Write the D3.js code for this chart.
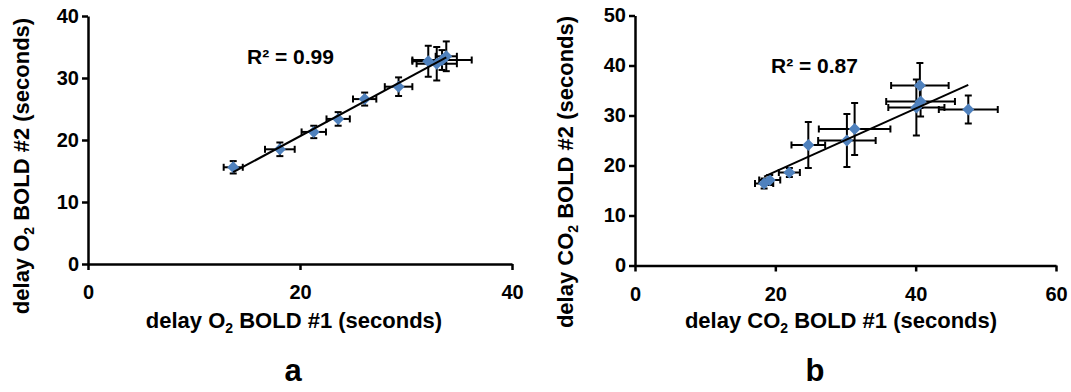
<!DOCTYPE html>
<html>
<head>
<meta charset="utf-8">
<script src="https://cdn.jsdelivr.net/npm/d3@7"></script>
<style>
  body { margin: 0; background: #fff; }
  svg { display: block; font-family: "Liberation Sans", Arial, sans-serif; font-weight: bold; }
  svg text { font-weight: bold; }
</style>
</head>
<body>
<div id="wrapper"></div>
<script>
// panel a: O2 BOLD repeat delays
const o2X = [13.7, 18.1, 21.3, 23.6, 26.1, 29.3, 32.1, 32.9, 33.4, 33.8]
const o2Y = [15.6, 18.5, 21.3, 23.4, 26.6, 28.6, 32.7, 32.3, 32.9, 33.5]
const o2XErr = [0.9, 1.4, 1.15, 1.1, 1.1, 1.3, 1.5, 1.9, 2.8, 1.0]
const o2YErr = [1.0, 1.1, 1.0, 1.1, 1.05, 1.5, 2.5, 2.7, 1.6, 2.4]

// panel b: CO2 BOLD repeat delays
const co2X = [18.4, 19.2, 22.0, 24.7, 30.2, 31.3, 40.6, 40.7, 40.1, 47.5]
const co2Y = [16.4, 17.1, 18.6, 24.1, 25.0, 27.3, 36.0, 32.8, 31.6, 31.2]
const co2XErr = [1.3, 1.5, 1.5, 2.4, 4.1, 5.1, 4.1, 4.9, 4.0, 4.2]
const co2YErr = [1.0, 1.0, 0.9, 4.6, 5.3, 5.2, 4.5, 3.0, 5.6, 2.8]

const panels = [
  {
    x: o2X, y: o2Y, xErr: o2XErr, yErr: o2YErr,
    xDomain: [0, 40], yDomain: [0, 40],
    xTicks: [0, 20, 40], yTicks: [0, 10, 20, 30, 40],
    xRange: [88, 512], yRange: [264, 16],
    gas: "O", r2: "R\u00b2 = 0.99", r2Pos: [247, 64],
    xLabelPos: [294, 328], yLabelPos: [21, 166],
    letter: "a", letterPos: [293, 381],
  },
  {
    x: co2X, y: co2Y, xErr: co2XErr, yErr: co2YErr,
    xDomain: [0, 60], yDomain: [0, 50],
    xTicks: [0, 20, 40, 60], yTicks: [0, 10, 20, 30, 40, 50],
    xRange: [635, 1056], yRange: [265.5, 15.5],
    gas: "CO", r2: "R\u00b2 = 0.87", r2Pos: [771, 73],
    xLabelPos: [841, 328], yLabelPos: [565, 172],
    letter: "b", letterPos: [815, 381],
  },
]

const svg = d3.select("#wrapper")
  .append("svg")
  .attr("width", 1071)
  .attr("height", 392)

const markerColor = "#4F81BD"

panels.forEach((p) => {
  const g = svg.append("g")
  const xScale = d3.scaleLinear().domain(p.xDomain).range(p.xRange)
  const yScale = d3.scaleLinear().domain(p.yDomain).range(p.yRange)
  const data = p.x.map((d, i) => ({ x: d, y: p.y[i], ex: p.xErr[i], ey: p.yErr[i] }))

  // axes
  const yAxis = g.append("g")
    .attr("transform", `translate(${p.xRange[0]},0)`)
    .call(d3.axisLeft(yScale).tickValues(p.yTicks).tickSize(6).tickSizeOuter(0).tickPadding(3))
  const xAxis = g.append("g")
    .attr("transform", `translate(0,${p.yRange[0]})`)
    .call(d3.axisBottom(xScale).tickValues(p.xTicks).tickSize(6).tickSizeOuter(0).tickPadding(15))

  ;[xAxis, yAxis].forEach((ax) => {
    ax.attr("font-family", null).attr("font-size", 20).attr("font-weight", "bold")
    ax.select(".domain").attr("stroke", "#000").attr("stroke-width", 2.5)
    ax.selectAll(".tick line").attr("stroke", "#000").attr("stroke-width", 2.5)
    ax.selectAll(".tick text").attr("fill", "#000")
  })

  // error bars
  const cap = 3.5
  const bars = g.append("g").attr("stroke", "#000").attr("stroke-width", 2)
  data.forEach((d) => {
    const cx = xScale(d.x), cy = yScale(d.y)
    const x0 = xScale(d.x - d.ex), x1 = xScale(d.x + d.ex)
    const y0 = yScale(d.y - d.ey), y1 = yScale(d.y + d.ey)
    bars.append("line").attr("x1", x0).attr("x2", x1).attr("y1", cy).attr("y2", cy)
    bars.append("line").attr("x1", x0).attr("x2", x0).attr("y1", cy - cap).attr("y2", cy + cap)
    bars.append("line").attr("x1", x1).attr("x2", x1).attr("y1", cy - cap).attr("y2", cy + cap)
    bars.append("line").attr("x1", cx).attr("x2", cx).attr("y1", y0).attr("y2", y1)
    bars.append("line").attr("x1", cx - cap).attr("x2", cx + cap).attr("y1", y0).attr("y2", y0)
    bars.append("line").attr("x1", cx - cap).attr("x2", cx + cap).attr("y1", y1).attr("y2", y1)
  })

  // diamond markers
  const s = 6
  g.append("g")
    .selectAll("path")
    .data(data)
    .join("path")
    .attr("d", (d) => {
      const cx = xScale(d.x), cy = yScale(d.y)
      return `M${cx},${cy - s}L${cx + s},${cy}L${cx},${cy + s}L${cx - s},${cy}Z`
    })
    .attr("fill", markerColor)

  // linear trendline (least squares over the points)
  const mx = d3.mean(p.x), my = d3.mean(p.y)
  const slope = d3.sum(p.x, (d, i) => (d - mx) * (p.y[i] - my)) / d3.sum(p.x, (d) => (d - mx) ** 2)
  const icpt = my - slope * mx
  const [xMin, xMax] = d3.extent(p.x)
  g.append("line")
    .attr("x1", xScale(xMin)).attr("y1", yScale(icpt + slope * xMin))
    .attr("x2", xScale(xMax)).attr("y2", yScale(icpt + slope * xMax))
    .attr("stroke", "#000")
    .attr("stroke-width", 2)

  // R² label
  g.append("text")
    .attr("x", p.r2Pos[0]).attr("y", p.r2Pos[1])
    .style("font-size", "21px")
    .text(p.r2)

  // axis titles with subscript 2
  const addTitle = (sel, num) => {
    sel.append("tspan").text(`delay ${p.gas}`)
    sel.append("tspan").text("2").style("font-size", "14px").attr("dy", 5)
    sel.append("tspan").text(` BOLD #${num} (seconds)`).attr("dy", -5)
  }

  const xTitle = g.append("text")
    .attr("x", p.xLabelPos[0]).attr("y", p.xLabelPos[1])
    .attr("text-anchor", "middle")
    .style("font-size", "22px")
  addTitle(xTitle, 1)

  const yTitle = g.append("text")
    .attr("transform", `translate(${p.yLabelPos[0]},${p.yLabelPos[1]}) rotate(-90)`)
    .attr("text-anchor", "middle")
    .attr("y", 8)
    .style("font-size", "22px")
  addTitle(yTitle, 2)

  // panel letter
  g.append("text")
    .attr("x", p.letterPos[0]).attr("y", p.letterPos[1])
    .attr("text-anchor", "middle")
    .style("font-size", "31px")
    .text(p.letter)
})
</script>
</body>
</html>
